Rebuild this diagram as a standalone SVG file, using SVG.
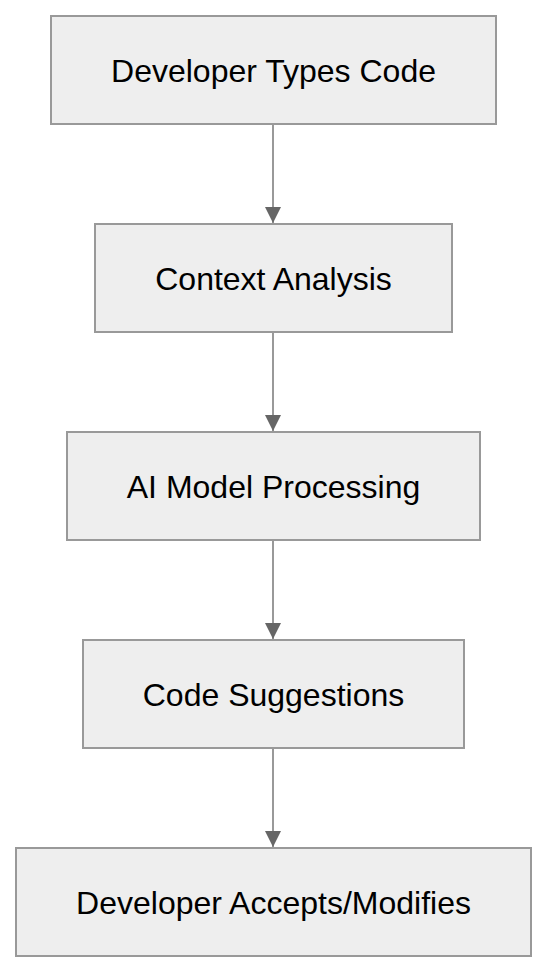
<svg xmlns="http://www.w3.org/2000/svg" width="546" height="972" viewBox="0 0 546 972">
<style>
.box{fill:#eeeeee;stroke:#999999;stroke-width:2}
.lbl{font-family:"Liberation Sans",Arial,sans-serif;font-size:32px;fill:#000;text-anchor:middle}
.edge{stroke:#999999;stroke-width:2;fill:none}
</style>
<defs>
<marker id="ah" markerUnits="userSpaceOnUse" markerWidth="16" markerHeight="16" refX="16" refY="8" orient="auto">
<path d="M0,0 L16,8 L0,16 Z" fill="#666666"/>
</marker>
</defs>
<rect width="546" height="972" fill="#ffffff"/>
<g id="connectors">
<line class="edge" x1="273" y1="124" x2="273" y2="223" marker-end="url(#ah)"/>
<line class="edge" x1="273" y1="332" x2="273" y2="431" marker-end="url(#ah)"/>
<line class="edge" x1="273" y1="540" x2="273" y2="639" marker-end="url(#ah)"/>
<line class="edge" x1="273" y1="748" x2="273" y2="847" marker-end="url(#ah)"/>
</g>
<g id="n1"><rect class="box" x="51" y="16" width="445" height="108"/><text class="lbl" x="273.5" y="81.5">Developer Types Code</text></g>
<g id="n2"><rect class="box" x="95" y="224" width="357" height="108"/><text class="lbl" x="273.5" y="289.5">Context Analysis</text></g>
<g id="n3"><rect class="box" x="67" y="432" width="413" height="108"/><text class="lbl" x="273.5" y="497.5">AI Model Processing</text></g>
<g id="n4"><rect class="box" x="83" y="640" width="381" height="108"/><text class="lbl" x="273.5" y="705.5">Code Suggestions</text></g>
<g id="n5"><rect class="box" x="16" y="848" width="515" height="108"/><text class="lbl" x="273.5" y="913.5">Developer Accepts/Modifies</text></g>
</svg>
